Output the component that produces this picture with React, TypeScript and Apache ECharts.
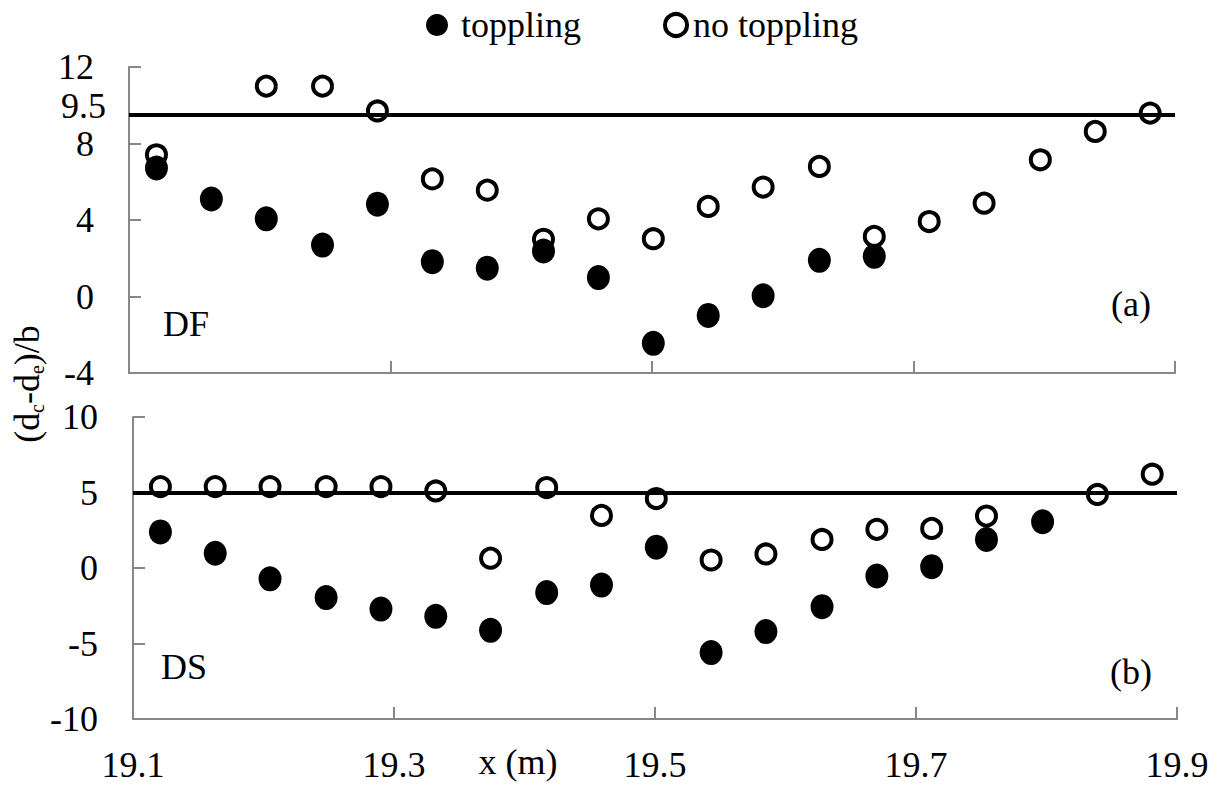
import React, { useEffect, useRef } from "react";
import * as echarts from "echarts";

const FONT = "'Liberation Serif', 'Times New Roman', serif";

// x positions (m) of the measurement stations
const xPos = [19.121, 19.163, 19.205, 19.248, 19.290, 19.332, 19.374, 19.417, 19.459, 19.501,
  19.543, 19.585, 19.628, 19.670, 19.712, 19.754, 19.797, 19.839, 19.881];

// (a) DF panel
const dfToppling = [6.72, 5.1, 4.06, 2.69, 4.83, 1.82, 1.48, 2.38, 0.99, -2.45, -0.99, 0.04, 1.89, 2.1,
  null, null, null, null, null];
const dfNoToppling = [7.41, null, 11.0, 11.0, 9.7, 6.15, 5.56, 2.99, 4.06, 3.02, 4.71, 5.72, 6.8, 3.14,
  3.92, 4.88, 7.15, 8.63, 9.59];
const dfThreshold = 9.5;

// (b) DS panel
const dsToppling = [2.39, 0.98, -0.72, -1.96, -2.72, -3.2, -4.13, -1.63, -1.13, 1.38, -5.6, -4.21, -2.56,
  -0.53, 0.09, 1.89, 3.06, null, null];
const dsNoToppling = [5.39, 5.39, 5.39, 5.39, 5.39, 5.1, 0.65, 5.33, 3.48, 4.6, 0.53, 0.93, 1.89, 2.56,
  2.62, 3.44, null, 4.87, 6.21];
const dsThreshold = 5;

const xTicks = [19.1, 19.3, 19.5, 19.7, 19.9];
const dfYTicks = [-4, 0, 4, 8, 12];
const dsYTicks = [-10, -5, 0, 5, 10];

const pairs = (ys: (number | null)[]) =>
  ys.map((y, i) => (y === null ? null : [xPos[i], y])).filter((p) => p !== null) as number[][];

const AXIS_GREY = "#878787";

export default function App() {
  const ref = useRef<HTMLDivElement>(null);
  useEffect(() => {
    if (!ref.current) return;
    const chart = echarts.init(ref.current, null, { renderer: "svg" });

    const xAxisBase = (gi: number, showLabel: boolean) => ({
      gridIndex: gi,
      type: "value",
      min: xTicks[0],
      max: xTicks[xTicks.length - 1],
      interval: 0.2,
      axisLine: { onZero: false, lineStyle: { color: AXIS_GREY, width: 2 } },
      axisTick: { inside: true, length: 12, lineStyle: { color: AXIS_GREY, width: 2 } },
      splitLine: { show: false },
      axisLabel: {
        show: showLabel,
        fontSize: 36,
        fontFamily: FONT,
        color: "#000",
        margin: 28,
        formatter: (v: number) => v.toFixed(1),
      },
    });
    const yAxisBase = (gi: number, ticks: number[], interval: number) => ({
      gridIndex: gi,
      type: "value",
      min: ticks[0],
      max: ticks[ticks.length - 1],
      interval,
      axisLine: { show: true, onZero: false, lineStyle: { color: AXIS_GREY, width: 2 } },
      axisTick: { show: true, inside: true, length: 12, lineStyle: { color: AXIS_GREY, width: 2 } },
      splitLine: { show: false },
      axisLabel: { fontSize: 36, fontFamily: FONT, color: "#000", margin: 35 },
    });

    const openStyle = { color: "#fff", borderColor: "#000", borderWidth: 4, opacity: 1 };
    const filledStyle = { color: "#000", opacity: 1 };

    const option = {
      animation: false,
      backgroundColor: "#fff",
      legend: {
        top: 2,
        left: 421,
        itemWidth: 22,
        itemHeight: 24,
        itemGap: 82,
        textStyle: { fontSize: 36, fontFamily: FONT, color: "#000", padding: [0, 0, 0, 8] },
        data: [
          { name: "toppling" },
          {
            name: "no toppling",
            itemStyle: { color: "#fff", borderColor: "#000", borderWidth: 4 },
            textStyle: { padding: [0, 0, 0, 1] },
          },
        ],
      },
      grid: [
        { left: 129, right: 50, top: 67, height: 306 },
        { left: 133, right: 48, top: 417, height: 302 },
      ],
      xAxis: [xAxisBase(0, false), xAxisBase(1, true)],
      yAxis: [yAxisBase(0, dfYTicks, 4), yAxisBase(1, dsYTicks, 5)],
      series: [
        {
          name: "no toppling",
          type: "scatter",
          xAxisIndex: 0,
          yAxisIndex: 0,
          symbol: "circle",
          symbolSize: 19,
          itemStyle: openStyle,
          emphasis: { disabled: true },
          data: pairs(dfNoToppling),
          z: 2,
          markLine: {
            silent: true,
            symbol: ["none", "none"],
            lineStyle: { color: "#000", width: 4, type: "solid" },
            label: { show: false },
            data: [{ yAxis: dfThreshold }],
          },
        },
        {
          name: "toppling",
          type: "scatter",
          xAxisIndex: 0,
          yAxisIndex: 0,
          symbol: "circle",
          symbolSize: [23, 25],
          itemStyle: filledStyle,
          emphasis: { disabled: true },
          data: pairs(dfToppling),
          z: 3,
        },
        {
          name: "no toppling",
          type: "scatter",
          xAxisIndex: 1,
          yAxisIndex: 1,
          symbol: "circle",
          symbolSize: 19,
          itemStyle: openStyle,
          emphasis: { disabled: true },
          data: pairs(dsNoToppling),
          z: 2,
          markLine: {
            silent: true,
            symbol: ["none", "none"],
            lineStyle: { color: "#000", width: 4, type: "solid" },
            label: { show: false },
            data: [{ yAxis: dsThreshold }],
          },
        },
        {
          name: "toppling",
          type: "scatter",
          xAxisIndex: 1,
          yAxisIndex: 1,
          symbol: "circle",
          symbolSize: [23, 25],
          itemStyle: filledStyle,
          emphasis: { disabled: true },
          data: pairs(dsToppling),
          z: 3,
        },
      ],
      graphic: [
        {
          type: "text",
          x: 106,
          y: 106,
          style: { text: String(dfThreshold), fontSize: 36, fontFamily: FONT, fill: "#000", textAlign: "right", textVerticalAlign: "middle" },
        },
        {
          type: "text",
          x: 186,
          y: 324,
          style: { text: "DF", fontSize: 36, fontFamily: FONT, fill: "#000", textAlign: "center", textVerticalAlign: "middle" },
        },
        {
          type: "text",
          x: 1131,
          y: 304,
          style: { text: "(a)", fontSize: 36, fontFamily: FONT, fill: "#000", textAlign: "center", textVerticalAlign: "middle" },
        },
        {
          type: "text",
          x: 184,
          y: 667,
          style: { text: "DS", fontSize: 36, fontFamily: FONT, fill: "#000", textAlign: "center", textVerticalAlign: "middle" },
        },
        {
          type: "text",
          x: 1131,
          y: 672,
          style: { text: "(b)", fontSize: 36, fontFamily: FONT, fill: "#000", textAlign: "center", textVerticalAlign: "middle" },
        },
        {
          type: "text",
          x: 518,
          y: 762,
          style: { text: "x (m)", fontSize: 36, fontFamily: FONT, fill: "#000", textAlign: "center", textVerticalAlign: "middle" },
        },
        {
          type: "text",
          x: 27,
          y: 384,
          rotation: Math.PI / 2,
          style: {
            text: "{m|(d}{s|c}{m|-d}{s|e}{m|)/b}",
            textAlign: "center",
            textVerticalAlign: "middle",
            fill: "#000",
            rich: {
              m: { fontSize: 36, fontFamily: FONT, fill: "#000", lineHeight: 40 },
              s: { fontSize: 20, fontFamily: FONT, fill: "#000", verticalAlign: "bottom", lineHeight: 40 },
            },
          },
        },
      ],
    };
    chart.setOption(option as any);
    return () => chart.dispose();
  }, []);
  return (
    <div
      ref={ref}
      style={{ position: "fixed", left: 0, top: 0, width: 1225, height: 787, background: "#fff" }}
    />
  );
}
